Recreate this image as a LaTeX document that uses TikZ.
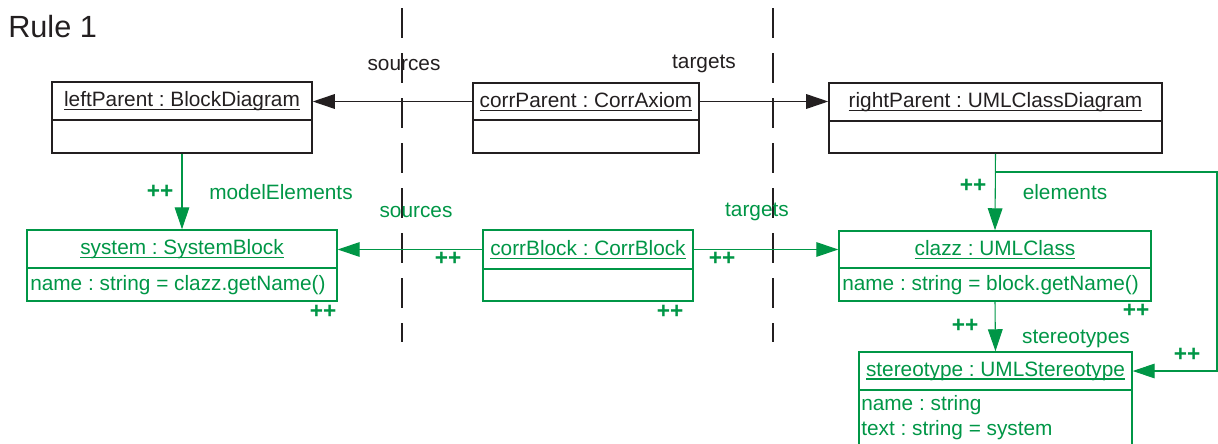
\documentclass[tikz,border=0pt]{standalone}
\usepackage{fontspec}
\setmainfont{Liberation Sans}
\usetikzlibrary{arrows.meta,fit}
\definecolor{rulegreen}{RGB}{0,150,70}
\definecolor{inkgray}{RGB}{35,31,32}
\frenchspacing

% underlined object name with a slightly heavier rule
\newsavebox\ulsave
\newcommand\objname[1]{\sbox\ulsave{#1}\rlap{\usebox\ulsave}\rule[-2.6pt]{\wd\ulsave}{0.9pt}}

\tikzset{
  txt/.style={font=\fontsize{15.6}{18}\selectfont, inner sep=0pt},
  blackrow/.style={draw=inkgray, line width=1.2pt, inner sep=0pt},
  greenrow/.style={draw=rulegreen, line width=1.1pt, inner sep=0pt},
  blacklink/.style={draw=inkgray, line width=0.8pt, -{Triangle[length=16.5pt,width=11pt]}},
  greenlink/.style={draw=rulegreen, line width=0.8pt, -{Triangle[length=16.5pt,width=11pt]}},
  blacklabel/.style={txt, text=inkgray},
  greenlabel/.style={txt, text=rulegreen},
  plusmark/.style={txt, text=rulegreen, font=\fontsize{17}{20}\selectfont\bfseries},
  attr/.style={txt, text=rulegreen, anchor=west},
  boundary/.style={draw=inkgray, line width=2.2pt, dash pattern=on 22.5pt off 11.25pt}
}

\begin{document}
\begin{tikzpicture}[x=0.75pt,y=-0.75pt]
\useasboundingbox (0,0) rectangle (1218,443);
\clip (0,0) rectangle (1218,443);

% title
\node[txt, text=inkgray, font=\fontsize{23}{26}\selectfont, anchor=west] (title) at (8,27) {Rule 1};

% domain boundaries
\coordinate (b1top) at (402,8);
\coordinate (b1bot) at (402,342);
\coordinate (b2top) at (773,8);
\coordinate (b2bot) at (773,342);
\draw[boundary] (b1top) -- (b1bot);
\draw[boundary] (b2top) -- (b2bot);

% ---- parent level (black) ----
\node[blackrow, fit={(52,82) (312,120)}] (lpT) {};
\node[blackrow, fit={(52,120) (312,153)}] (lpA) {};
\node[blacklabel] at (lpT.center) {\objname{leftParent : BlockDiagram}};

\node[blackrow, fit={(473,83) (699,120)}] (cpT) {};
\node[blackrow, fit={(473,120) (699,153)}] (cpA) {};
\node[blacklabel] at (cpT.center) {\objname{corrParent : CorrAxiom}};

\node[blackrow, fit={(829,83) (1162,121)}] (rpT) {};
\node[blackrow, fit={(829,121) (1162,153)}] (rpA) {};
\node[blacklabel] at (rpT.center) {\objname{rightParent : UMLClassDiagram}};

\draw[blacklink] (cpT.west) -- (cpT.west -| lpT.east);
\draw[blacklink] (cpT.east) -- (cpT.east -| rpT.west);
\node[blacklabel] (srcTop) at (404,65) {sources};
\node[blacklabel] (tgtTop) at (704,64) {targets};

% ---- created objects (green) ----
\node[greenrow, fit={(27,230) (337,268)}] (sbT) {};
\node[greenrow, fit={(27,268) (337,301)}] (sbA) {};
\node[greenlabel] at (sbT.center) {\objname{system : SystemBlock}};
\node[attr] at (30,285) {name : string = clazz.getName()};

\node[greenrow, fit={(483,230) (693,269)}] (cbT) {};
\node[greenrow, fit={(483,269) (693,301)}] (cbA) {};
\node[greenlabel] at (cbT.center) {\objname{corrBlock : CorrBlock}};

\node[greenrow, fit={(839,231) (1151,268)}] (clT) {};
\node[greenrow, fit={(839,268) (1151,301)}] (clA) {};
\node[greenlabel] at (clT.center) {\objname{clazz : UMLClass}};
\node[attr] at (842,285) {name : string = block.getName()};

\node[greenrow, fit={(859,352) (1132,390)}] (stT) {};
\node[greenrow, fit={(859,390) (1132,452)}] (stA) {};
\node[greenlabel] at (stT.center) {\objname{stereotype : UMLStereotype}};
\node[attr] at (861,405) {name : string};
\node[attr] at (861,430) {text : string = system};

% ---- green links ----
\draw[greenlink] (lpA.south) -- (sbT.north);
\node[plusmark] (pp1) at (160,192) {++};
\node[greenlabel] (lbModel) at (281,192) {modelElements};

\draw[greenlink] (cbT.west) -- (cbT.west -| sbT.east);
\node[greenlabel] (lbSrc) at (416,212) {sources};
\node[plusmark] (pp2) at (448,259) {++};

\draw[greenlink] (cbT.east) -- (cbT.east -| clT.west);
\node[greenlabel] (lbTgt) at (757,212) {targets};
\node[plusmark] (pp3) at (722,259) {++};

\draw[greenlink] (rpA.south) -- (clT.north);
\node[plusmark] (pp4) at (973,186) {++};
\node[greenlabel] (lbElem) at (1065,192) {elements};

\coordinate (bend) at (1217,172);
\draw[greenlink] (rpA.south) |- (bend) |- (stT.east);
\node[plusmark] (pp5) at (1187,355) {++};

\draw[greenlink] (clA.south) -- (stT.north);
\node[plusmark] (pp6) at (965,326) {++};
\node[greenlabel] (lbStereo) at (1076,339) {stereotypes};

% markers for newly created objects
\node[plusmark] (pp7) at (323,312) {++};
\node[plusmark] (pp8) at (670,312) {++};
\node[plusmark] (pp9) at (1136,311) {++};
\end{tikzpicture}
\end{document}
